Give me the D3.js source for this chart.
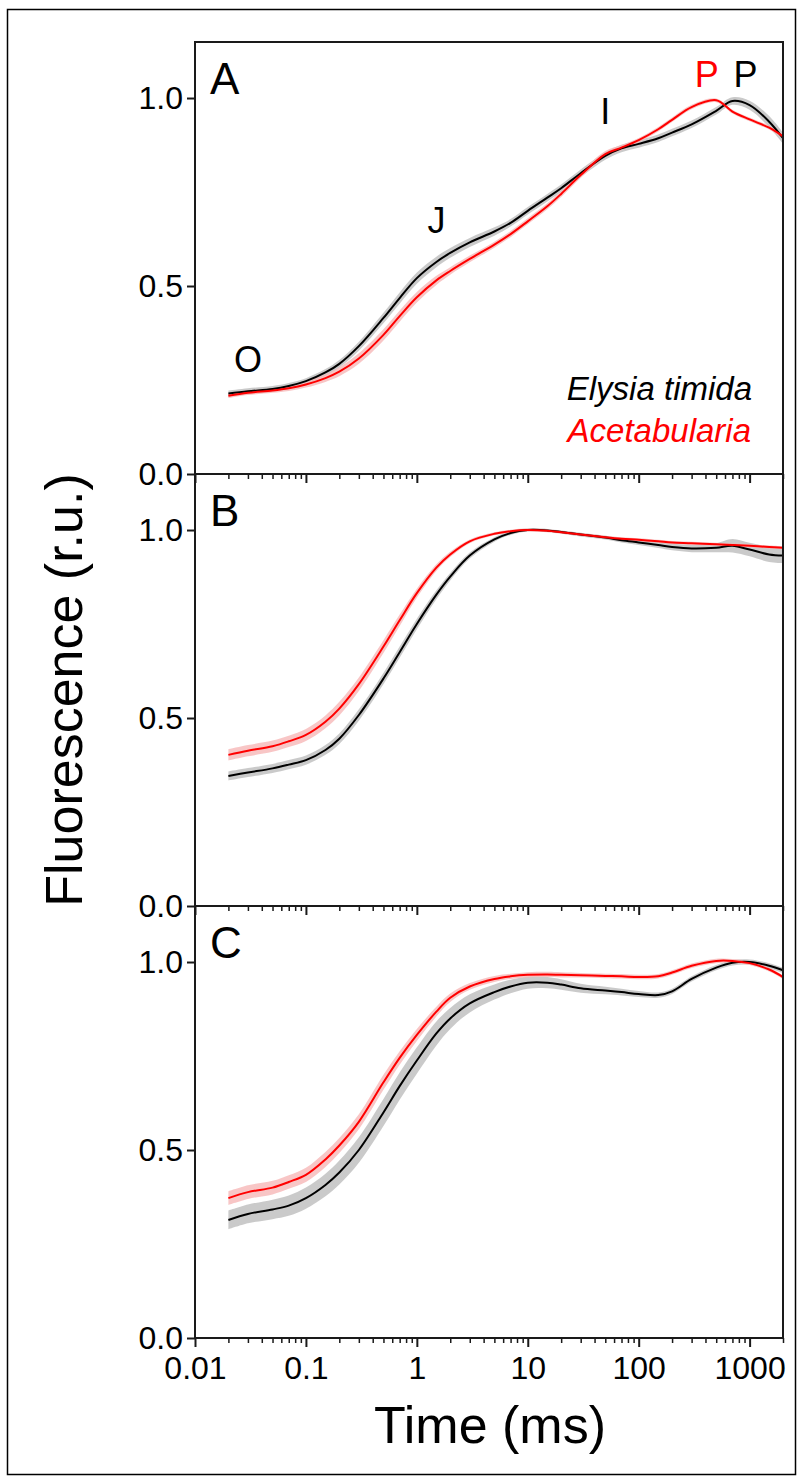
<!DOCTYPE html>
<html>
<head>
<meta charset="utf-8">
<script src="https://cdn.jsdelivr.net/npm/d3@7"></script>
<style>
  body { margin: 0; background: #fff; }
  svg text { font-family: "Liberation Sans", Arial, sans-serif; }
</style>
</head>
<body>
<script>
// time points (ms)
var times = [0.02, 0.03, 0.05, 0.07, 0.1, 0.15, 0.2, 0.3, 0.5, 0.7, 1, 1.5, 2, 3, 5, 7, 10,
  15, 20, 30, 50, 70, 100, 150, 200, 300, 500, 700, 1000, 1500, 2000];

// panel A
var elysiaA = [0.214, 0.220, 0.226, 0.234, 0.247, 0.270, 0.293, 0.340, 0.415, 0.468, 0.521, 0.564, 0.588, 0.616, 0.645, 0.668, 0.700,
  0.735, 0.760, 0.800, 0.846, 0.866, 0.878, 0.893, 0.908, 0.930, 0.966, 0.992, 0.981, 0.937, 0.893];
var elysiaAsd = [0.008, 0.008, 0.008, 0.008, 0.008, 0.009, 0.010, 0.012, 0.014, 0.015, 0.015, 0.014, 0.013, 0.012, 0.011, 0.010, 0.010,
  0.010, 0.010, 0.010, 0.010, 0.010, 0.010, 0.010, 0.010, 0.010, 0.010, 0.010, 0.012, 0.015, 0.015];
var acetA = [0.208, 0.216, 0.222, 0.228, 0.238, 0.255, 0.272, 0.307, 0.370, 0.420, 0.470, 0.515, 0.540, 0.572, 0.610, 0.638, 0.672,
  0.712, 0.745, 0.795, 0.851, 0.868, 0.888, 0.917, 0.942, 0.976, 0.994, 0.964, 0.943, 0.921, 0.898];
var acetAsd = [0.006, 0.006, 0.006, 0.007, 0.008, 0.010, 0.012, 0.014, 0.015, 0.015, 0.014, 0.012, 0.010, 0.009, 0.008, 0.008, 0.008,
  0.008, 0.008, 0.008, 0.008, 0.007, 0.006, 0.006, 0.006, 0.006, 0.005, 0.005, 0.005, 0.005, 0.005];

// panel B
var elysiaB = [0.346, 0.355, 0.366, 0.376, 0.388, 0.415, 0.445, 0.508, 0.605, 0.675, 0.750, 0.828, 0.876, 0.932, 0.975, 0.992, 1.000,
  0.999, 0.995, 0.988, 0.980, 0.973, 0.967, 0.960, 0.955, 0.951, 0.953, 0.958, 0.948, 0.935, 0.932];
var elysiaBsd = [0.012, 0.012, 0.012, 0.012, 0.012, 0.013, 0.014, 0.015, 0.015, 0.015, 0.014, 0.012, 0.010, 0.008, 0.006, 0.005, 0.004,
  0.004, 0.004, 0.005, 0.005, 0.006, 0.007, 0.008, 0.009, 0.010, 0.012, 0.018, 0.018, 0.020, 0.020];
var acetB = [0.402, 0.413, 0.425, 0.438, 0.455, 0.490, 0.525, 0.590, 0.690, 0.760, 0.832, 0.900, 0.935, 0.970, 0.990, 0.997, 1.000,
  0.998, 0.994, 0.988, 0.981, 0.977, 0.974, 0.970, 0.967, 0.965, 0.962, 0.960, 0.958, 0.955, 0.953];
var acetBsd = [0.015, 0.015, 0.015, 0.015, 0.016, 0.017, 0.018, 0.018, 0.017, 0.015, 0.012, 0.009, 0.007, 0.005, 0.004, 0.004, 0.004,
  0.004, 0.004, 0.004, 0.004, 0.004, 0.004, 0.004, 0.004, 0.004, 0.004, 0.004, 0.004, 0.004, 0.004];

// panel C
var elysiaC = [0.314, 0.330, 0.342, 0.352, 0.372, 0.407, 0.440, 0.500, 0.600, 0.670, 0.738, 0.810, 0.850, 0.890, 0.920, 0.935, 0.945,
  0.945, 0.940, 0.930, 0.924, 0.920, 0.915, 0.912, 0.922, 0.955, 0.985, 0.998, 1.000, 0.990, 0.978];
var elysiaCsd = [0.025, 0.025, 0.026, 0.027, 0.028, 0.030, 0.032, 0.034, 0.036, 0.036, 0.035, 0.032, 0.028, 0.024, 0.020, 0.018, 0.016,
  0.015, 0.014, 0.012, 0.010, 0.009, 0.008, 0.007, 0.007, 0.007, 0.007, 0.007, 0.007, 0.007, 0.007];
var acetC = [0.372, 0.388, 0.400, 0.415, 0.434, 0.475, 0.512, 0.575, 0.680, 0.745, 0.806, 0.868, 0.905, 0.935, 0.955, 0.962, 0.966,
  0.967, 0.966, 0.965, 0.963, 0.962, 0.960, 0.962, 0.972, 0.990, 1.003, 1.003, 0.997, 0.980, 0.960];
var acetCsd = [0.018, 0.018, 0.018, 0.018, 0.019, 0.020, 0.020, 0.020, 0.020, 0.018, 0.016, 0.013, 0.011, 0.009, 0.008, 0.007, 0.007,
  0.007, 0.007, 0.006, 0.006, 0.006, 0.006, 0.006, 0.006, 0.006, 0.006, 0.005, 0.005, 0.005, 0.005];

var panelLetters = ['A', 'B', 'C'];
var xTicks = [0.01, 0.1, 1, 10, 100, 1000];
var xTickLabels = ['0.01', '0.1', '1', '10', '100', '1000'];
var yTicks = [0, 0.5, 1];
var yTickLabels = ['0.0', '0.5', '1.0'];
var seriesNames = ['Elysia timida', 'Acetabularia'];

var panels = [
  { letter: panelLetters[0], black: elysiaA, blackSd: elysiaAsd, red: acetA, redSd: acetAsd },
  { letter: panelLetters[1], black: elysiaB, blackSd: elysiaBsd, red: acetB, redSd: acetBsd },
  { letter: panelLetters[2], black: elysiaC, blackSd: elysiaCsd, red: acetC, redSd: acetCsd }
];

var left = 195, right = 783, top0 = 42, panelH = 432;

var svg = d3.select('body')
  .append('svg')
  .attr('width', 803)
  .attr('height', 1482)

// outer frame
svg.append('rect')
  .attr('x', 7.5).attr('y', 9.5)
  .attr('width', 788).attr('height', 1465)
  .attr('fill', 'none')
  .attr('stroke', '#000')
  .attr('stroke-width', 1.5)

var x = d3.scaleLog()
  .domain([0.01, 2000])
  .range([left, right])

var minor = [];
[0.01, 0.1, 1, 10, 100, 1000].forEach(function (d) {
  for (var k = 2; k <= 9; k++) {
    if (d * k <= 2000) minor.push(d * k);
  }
});

var smooth = d3.curveCatmullRom.alpha(0.5);

panels.forEach(function (p, i) {
  var top = top0 + i * panelH;
  var bottom = top + panelH;

  var y = d3.scaleLinear()
    .domain([0, 1.149])
    .range([bottom, top])

  var g = svg.append('g').attr('class', 'panel')

  var area = function (vals, sds) {
    return d3.area()
      .x(function (d, j) { return x(times[j]); })
      .y0(function (d, j) { return y(vals[j] - sds[j]); })
      .y1(function (d, j) { return y(vals[j] + sds[j]); })
      .curve(smooth)(times);
  };
  var line = function (vals) {
    return d3.line()
      .x(function (d, j) { return x(times[j]); })
      .y(function (d, j) { return y(vals[j]); })
      .curve(smooth)(times);
  };

  g.append('path').attr('d', area(p.black, p.blackSd)).attr('fill', '#c4c4c4').attr('opacity', 0.9)
  g.append('path').attr('d', area(p.red, p.redSd)).attr('fill', '#f6b8b8').attr('opacity', 0.8)
  g.append('path').attr('d', line(p.black)).attr('fill', 'none').attr('stroke', '#000').attr('stroke-width', 2)
  g.append('path').attr('d', line(p.red)).attr('fill', 'none').attr('stroke', '#ff0000').attr('stroke-width', 2)

  // box
  g.append('rect')
    .attr('x', left).attr('y', top)
    .attr('width', right - left).attr('height', panelH)
    .attr('fill', 'none')
    .attr('stroke', '#1a1a1a')
    .attr('stroke-width', 2)

  // y axis
  var axisL = d3.axisLeft(y)
    .tickValues(yTicks)
    .tickSize(8)
    .tickPadding(4)
    .tickFormat(function (d, k) { return yTickLabels[k]; })
  var gy = g.append('g')
    .attr('transform', 'translate(' + left + ',0)')
    .call(axisL)
  gy.select('.domain').remove()
  gy.selectAll('line').attr('stroke', '#1a1a1a').attr('stroke-width', 2)
  gy.selectAll('text').attr('font-size', 32).attr('fill', '#000')

  // x axis (major + minor)
  var axisB = d3.axisBottom(x)
    .tickValues(xTicks)
    .tickSize(9)
    .tickPadding(9)
    .tickFormat(function (d, k) { return i === 2 ? xTickLabels[k] : ''; })
  var gx = g.append('g')
    .attr('transform', 'translate(0,' + bottom + ')')
    .call(axisB)
  gx.select('.domain').remove()
  gx.selectAll('line').attr('stroke', '#1a1a1a').attr('stroke-width', 2)
  gx.selectAll('text').attr('font-size', 32).attr('fill', '#000')

  var axisM = d3.axisBottom(x)
    .tickValues(minor)
    .tickSize(5)
    .tickFormat('')
  var gm = g.append('g')
    .attr('transform', 'translate(0,' + bottom + ')')
    .call(axisM)
  gm.select('.domain').remove()
  gm.selectAll('line').attr('stroke', '#1a1a1a').attr('stroke-width', 1.5)

  // panel letter
  g.append('text')
    .text(p.letter)
    .attr('x', 210)
    .attr('y', top + 52)
    .attr('font-size', 44)
})

// annotations in panel A
var yA = d3.scaleLinear().domain([0, 1.149]).range([top0 + panelH, top0])
var marks = [
  { t: 'O', at: 0.03, v: 0.27, c: '#000' },
  { t: 'J', at: 1.5, v: 0.64, c: '#000' },
  { t: 'I', at: 50, v: 0.93, c: '#000' },
  { t: 'P', at: 410, v: 1.03, c: '#ff0000' },
  { t: 'P', at: 920, v: 1.03, c: '#000' }
]
svg.selectAll('.mark')
  .data(marks)
  .enter()
  .append('text')
  .attr('class', 'mark')
  .text(function (d) { return d.t; })
  .attr('x', function (d) { return x(d.at); })
  .attr('y', function (d) { return yA(d.v); })
  .attr('text-anchor', 'middle')
  .attr('font-size', 36)
  .attr('fill', function (d) { return d.c; })

// legend
svg.append('text')
  .text(seriesNames[0])
  .attr('x', 752).attr('y', 400)
  .attr('text-anchor', 'end')
  .attr('font-size', 33)
  .attr('font-style', 'italic')
  .attr('fill', '#000')
svg.append('text')
  .text(seriesNames[1])
  .attr('x', 751).attr('y', 442)
  .attr('text-anchor', 'end')
  .attr('font-size', 33)
  .attr('font-style', 'italic')
  .attr('fill', '#ff0000')

// axis titles
svg.append('text')
  .text('Time (ms)')
  .attr('x', 490)
  .attr('y', 1443)
  .attr('text-anchor', 'middle')
  .attr('font-size', 52)

svg.append('text')
  .text('Fluorescence (r.u.)')
  .attr('transform', 'translate(82,690) rotate(-90)')
  .attr('text-anchor', 'middle')
  .attr('font-size', 52)
</script>
</body>
</html>
